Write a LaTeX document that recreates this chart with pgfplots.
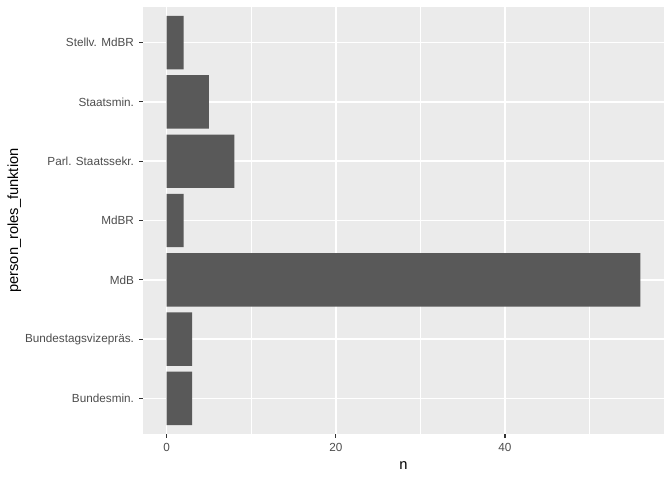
\documentclass[border=0pt]{standalone}
\usepackage{pgfplots}
\pgfplotsset{compat=1.18}
\usepackage{fontspec}
\setmainfont{Liberation Sans}
\definecolor{panelbg}{HTML}{EBEBEB}
\definecolor{barfill}{HTML}{595959}
\definecolor{ticktext}{HTML}{4D4D4D}
\definecolor{tickcol}{HTML}{333333}
\begin{document}
\begin{tikzpicture}
\begin{axis}[
  scale only axis,
  width=390.75pt, height=320.25pt,
  xmin=-2.8, xmax=58.8,
  ymin=0.4, ymax=7.6,
  xbar, bar width=0.9,
  axis line style={draw=none},
  axis background/.style={fill=panelbg},
  xtick={0,20,40},
  minor xtick={10,30,50},
  ytick={1,2,3,4,5,6,7},
  yticklabels={Bundesmin.,Bundestagsvizepräs.,MdB,MdBR,Parl. Staatssekr.,Staatsmin.,Stellv. MdBR},
  xmajorgrids, xminorgrids, ymajorgrids,
  major grid style={white, line width=1.07pt},
  minor grid style={white, line width=0.53pt},
  tick align=outside,
  major tick length=2.75pt,
  minor tick length=0pt,
  tick style={tickcol, line width=0.8pt},
  xtick pos=bottom, ytick pos=left,
  ticklabel style={font=\fontsize{8.8}{10}\selectfont, text=ticktext},
  /pgf/number format/assume math mode=true,
  xticklabel style={yshift=-0.5pt},
  yticklabel style={xshift=-0.5pt},
  xlabel={n},
  ylabel={person\_roles\_funktion},
  label style={font=\fontsize{11}{13}\selectfont, text=black},
  xlabel style={yshift=-0.75pt},
  ylabel style={yshift=-4pt},
  clip=false,
]
\addplot[fill=barfill, draw=none] coordinates {
  (3,1) (3,2) (56,3) (2,4) (8,5) (5,6) (2,7)
};
\coordinate (ll) at (rel axis cs:0,0);
\end{axis}
\pgfresetboundingbox
\path[use as bounding box] (ll) ++(-107.25pt,-34.5pt) rectangle ++(504pt,360pt);
\end{tikzpicture}
\end{document}
